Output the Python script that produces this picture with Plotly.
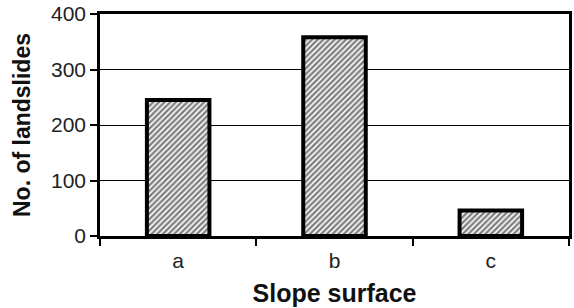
import plotly.graph_objects as go

categories = ["a", "b", "c"]
values = [245, 358, 46]
y_ticks = [0, 100, 200, 300, 400]

fig = go.Figure(go.Bar(
    x=categories, y=values,
    marker=dict(color="white",
                line=dict(color="black", width=4),
                pattern=dict(shape="/", size=4, solidity=0.6, fgcolor="black", bgcolor="white")),
    width=0.4,
    hoverinfo="skip",
))

font = "Liberation Sans, Arial, sans-serif"
fig.update_layout(
    width=574, height=308,
    margin=dict(l=100, r=5, t=14, b=72),
    plot_bgcolor="white", paper_bgcolor="white",
    showlegend=False,
    font=dict(family=font, size=21, color="#222"),
)
fig.update_xaxes(
    type="category", tickson="boundaries", ticks="outside", ticklen=7, tickwidth=1.5,
    tickcolor="black", showline=True, linecolor="black", linewidth=2.5, mirror=True,
    showgrid=False, tickfont=dict(size=21), automargin=False, ticklabelstandoff=4,
    title=dict(text="<b>Slope surface</b>", font=dict(size=25, color="#111"), standoff=14),
)
fig.update_yaxes(
    range=[0, 400], tickvals=y_ticks, ticks="outside", ticklen=7, tickwidth=1.5,
    tickcolor="black", showline=True, linecolor="black", linewidth=2.5, mirror=True,
    showgrid=True, gridcolor="black", gridwidth=1, zeroline=False,
    tickfont=dict(size=21), automargin=False, ticklabeloverflow="allow",
    title=dict(text="<b>No. of landslides</b>", font=dict(size=23, color="#111"), standoff=14),
)
fig.write_html("out.html", config={"displayModeBar": False},
               post_script="document.body.style.margin='0';")
